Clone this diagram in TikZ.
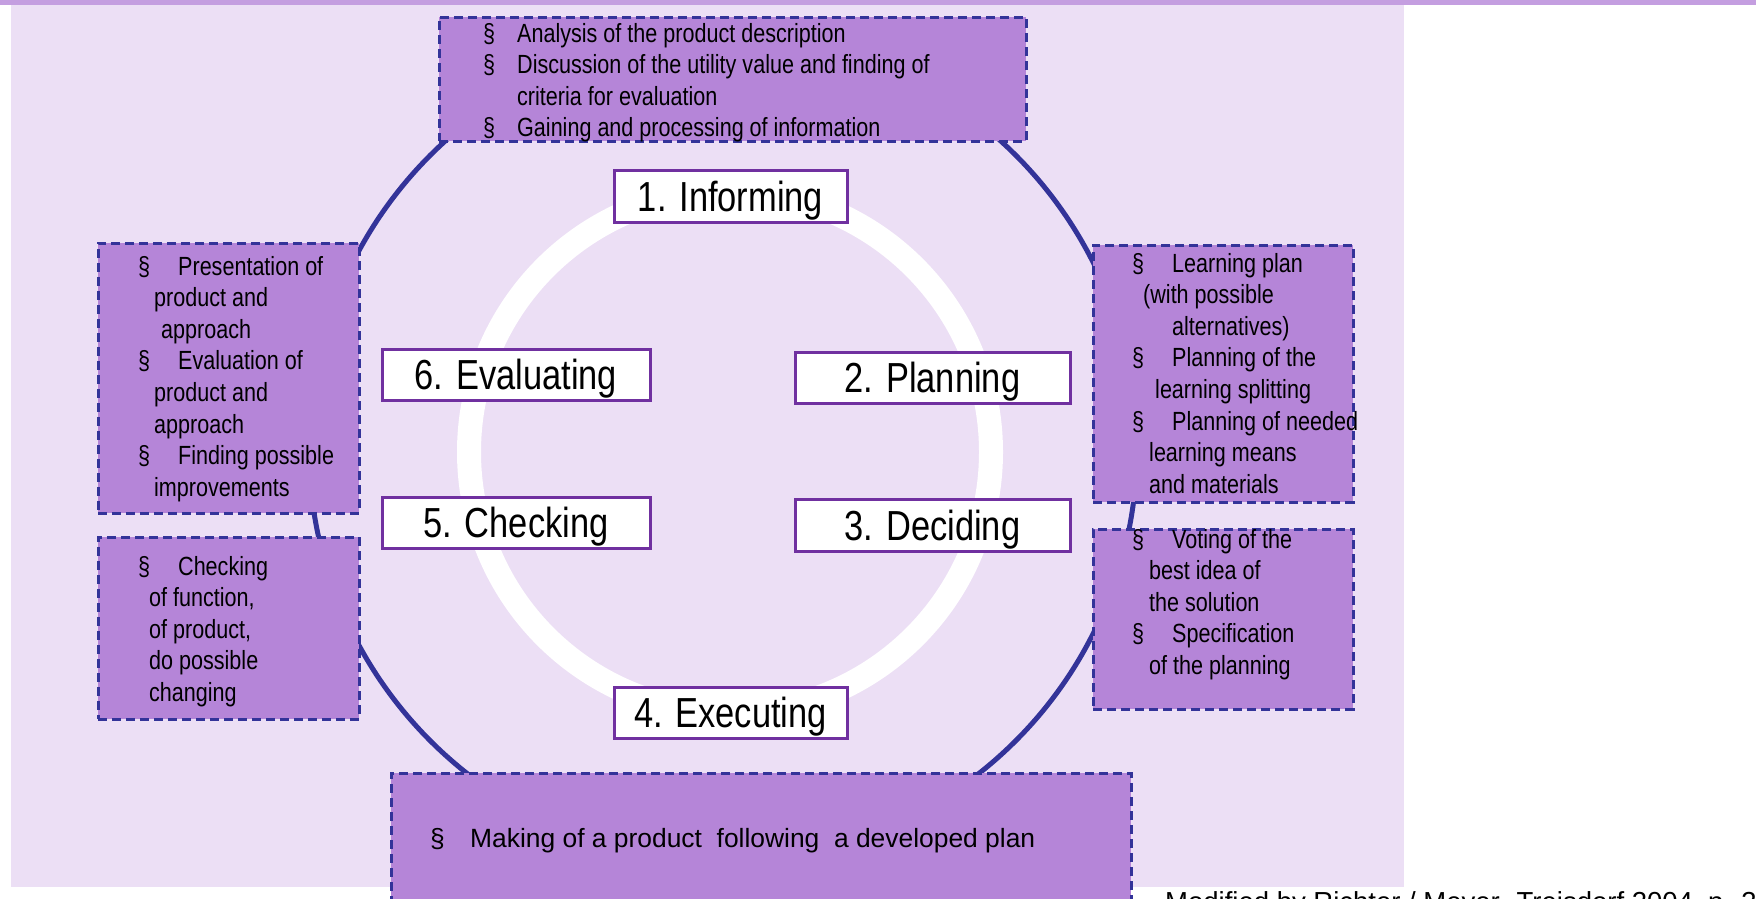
\documentclass[tikz,border=0pt]{standalone}
\usepackage{amsmath,amssymb}
\usepackage{xcolor}
\usepackage{fontspec}
\setmainfont{Liberation Sans}
\newfontfamily\narrowfont[FakeStretch=0.82]{Liberation Sans}
\usepackage{tikz}

\definecolor{bandpurple}{HTML}{C49EE0}
\definecolor{lightlilac}{HTML}{ECDFF5}
\definecolor{boxlilac}{HTML}{B585D8}
\definecolor{ringblue}{HTML}{333399}
\definecolor{framepurple}{HTML}{7030A0}
\newcommand{\bl}[2][40pt]{\makebox[#1][l]{\S}#2}
\newcommand{\boxlines}[1]{\parbox[t]{560pt}{\raggedright #1}}

\begin{document}
\begin{tikzpicture}[x=1pt,y=-1pt,
    notebox/.style={draw=ringblue,line width=3pt,dash pattern=on 9pt off 5pt,fill=boxlilac,inner sep=0pt},
    stage/.style={draw=framepurple,line width=3pt,fill=white,inner sep=0pt,text height=30pt,text depth=0pt,
      font=\narrowfont\fontsize{42}{50}\selectfont},
    notetext/.style={anchor=base west,inner sep=0pt,font=\narrowfont\fontsize{26.3}{31.6}\selectfont}]
    \useasboundingbox (0,0) rectangle (1756,898);
    \fill[bandpurple] (0,0) rectangle (1756,4.5);
    \fill[lightlilac] (11,5) rectangle (1404,887);
    \draw[white,line width=24pt] (730,452) circle[radius=261pt];
    \draw[ringblue,line width=5pt] (723,448) circle[radius=414pt];

    \node [notebox,minimum width=587pt,minimum height=124pt] (infobox) at (732.5,79) {};
    \node [notebox,minimum width=261pt,minimum height=270pt] (evalbox) at (228.5,378) {};
    \node [notebox,minimum width=261pt,minimum height=182pt] (checkbox) at (228.5,628) {};
    \node [notebox,minimum width=260pt,minimum height=257pt] (planbox) at (1223,373.5) {};
    \node [notebox,minimum width=260pt,minimum height=180pt] (decidebox) at (1223,619) {};
    \node [notebox,minimum width=740pt,minimum height=147pt] (execbox) at (761,846.5) {};

    \node [notetext] (infotext) at (483,42) {\boxlines{%
      \bl[34pt]{Analysis of the product description}\\
      \bl[34pt]{Discussion of the utility value and finding of}\\
      \hspace*{34pt}criteria for evaluation\\
      \bl[34pt]{Gaining and processing of information}}};
    \node [notetext] (evaltext) at (138,275) {\boxlines{%
      \bl{Presentation of}\\
      \hspace*{16pt}product and\\
      \hspace*{23pt}approach\\
      \bl{Evaluation of}\\
      \hspace*{16pt}product and\\
      \hspace*{16pt}approach\\
      \bl{Finding possible}\\
      \hspace*{16pt}improvements}};
    \node [notetext] (checktext) at (138,575) {\boxlines{%
      \bl{Checking}\\
      \hspace*{11pt}of function,\\
      \hspace*{11pt}of product,\\
      \hspace*{11pt}do possible\\
      \hspace*{11pt}changing}};
    \node [notetext] (plantext) at (1132,272) {\boxlines{%
      \bl{Learning plan}\\
      \hspace*{11pt}(with possible\\
      \hspace*{40pt}alternatives)\\
      \bl{Planning of the}\\
      \hspace*{23pt}learning splitting\\
      \bl{Planning of needed}\\
      \hspace*{17pt}learning means\\
      \hspace*{17pt}and materials}};
    \node [notetext] (decidetext) at (1132,548) {\boxlines{%
      \bl{Voting of the}\\
      \hspace*{17pt}best idea of\\
      \hspace*{17pt}the solution\\
      \bl{Specification}\\
      \hspace*{17pt}of the planning}};
    \node [notetext,font=\fontsize{26.4}{31.6}\selectfont] (exectext) at (430,847)
      {\bl{Making of a product\ \ following\ \ a developed plan}};

    \node [stage,minimum width=233pt,minimum height=52pt] (inform) at (730.5,196) {1. Informing};
    \node [stage,minimum width=275pt,minimum height=51pt] (plan) at (932.5,377.5) {2. Planning};
    \node [stage,minimum width=275pt,minimum height=52pt] (decide) at (932.5,525) {3. Deciding};
    \node [stage,minimum width=233pt,minimum height=51pt] (execute) at (730.5,712.5) {4. Executing};
    \node [stage,minimum width=268pt,minimum height=51pt] (check) at (516,522.5) {5. Checking};
    \node [stage,minimum width=268pt,minimum height=51pt] (evaluate) at (516,374.5) {6. Evaluating};

    \node [anchor=base west,inner sep=0pt,font=\fontsize{27.5}{33}\selectfont] (source) at (1165,911)
      {Modified by Richter / Meyer- Treisdorf 2004, p. 32};
\end{tikzpicture}
\end{document}
